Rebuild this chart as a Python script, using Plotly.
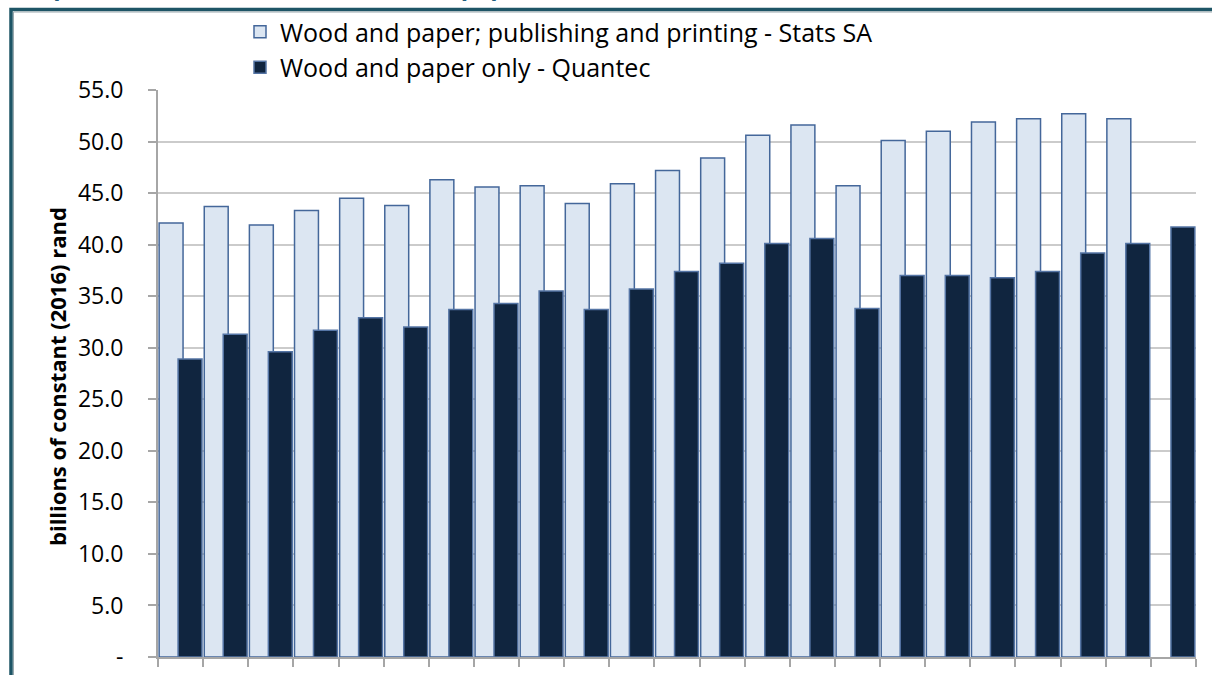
import plotly.graph_objects as go

# Years on the category axis
years = [str(y) for y in range(1994, 2017)]

# Real output, billions of constant (2016) rand
stats_sa = [42.1, 43.7, 41.9, 43.3, 44.5, 43.8, 46.3, 45.6, 45.7, 44.0, 45.9,
            47.2, 48.4, 50.6, 51.6, 45.7, 50.1, 51.0, 51.9, 52.2, 52.7, 52.2, None]
quantec = [28.9, 31.3, 29.6, 31.7, 32.9, 32.0, 33.7, 34.3, 35.5, 33.7, 35.7,
           37.4, 38.2, 40.1, 40.6, 33.8, 37.0, 37.0, 36.8, 37.4, 39.2, 40.1, 41.7]

y_ticks = [0, 5, 10, 15, 20, 25, 30, 35, 40, 45, 50, 55]
y_tick_text = ["-"] + [f"{v:.1f}" for v in y_ticks[1:]]

series_names = ["Wood and paper; publishing and printing - Stats SA",
                "Wood and paper only - Quantec"]

FONT = "Open Sans"

fig = go.Figure()
fig.add_trace(go.Bar(
    x=years, y=stats_sa, name=series_names[0],
    width=0.53, offset=-0.475,
    marker=dict(color="#dce6f2", line=dict(color="#44679a", width=1.5)),
))
fig.add_trace(go.Bar(
    x=years, y=quantec, name=series_names[1],
    width=0.53, offset=-0.055,
    marker=dict(color="#10253f", line=dict(color="#5575a5", width=1.5)),
))

# plot area: x 158..1196 px, y 90..657 px
L, R, T, B = 158, 1196, 90, 657
W, H = R - L, B - T


def px_x(p):
    return (p - L) / W


def px_y(p):
    return (B - p) / H


fig.update_layout(
    width=1212, height=675,
    margin=dict(l=L, r=1212 - R, t=T, b=675 - B, autoexpand=False),
    paper_bgcolor="white", plot_bgcolor="white",
    barmode="overlay",
    font=dict(family=FONT, size=23, color="#000000"),
    showlegend=True,
    legend=dict(
        x=px_x(240), y=px_y(9), xanchor="left", yanchor="top",
        font=dict(family=FONT, size=25, color="#000000"),
        bgcolor="rgba(0,0,0,0)", tracegroupgap=0,
    ),
    xaxis=dict(
        type="category", range=[-0.5, 22.5], automargin=False,
        showgrid=False, showline=True, linecolor="#a6a6a6", linewidth=2,
        ticks="outside", tickson="boundaries", ticklen=8, tickwidth=2,
        tickcolor="#a6a6a6", showticklabels=False,
    ),
    yaxis=dict(
        range=[0, 55], tickvals=y_ticks, ticktext=y_tick_text, automargin=False,
        showgrid=True, gridcolor="#cbcbcb", gridwidth=2,
        showline=True, linecolor="#a6a6a6", linewidth=2,
        ticks="outside", ticklen=8, tickwidth=2, tickcolor="#a6a6a6",
        ticklabelstandoff=20, zeroline=False,
        tickfont=dict(family=FONT, size=23),
    ),
)

# y-axis title
fig.add_annotation(
    text="<b>billions of constant (2016) rand</b>",
    xref="paper", yref="paper", x=px_x(57), y=px_y(377),
    xanchor="center", yanchor="middle", textangle=-90, showarrow=False,
    font=dict(family=FONT, size=22, color="#000000"),
)

# chart title above the frame
fig.add_annotation(
    text="<b>Output of the wood sector: wood and paper, 1994 to 2016, in billions of constant (2016) rand (R)</b>",
    xref="paper", yref="paper", x=px_x(6), y=px_y(4),
    xanchor="left", yanchor="bottom", showarrow=False,
    font=dict(family=FONT, size=24, color="#1f5f7f"),
)

# frame around the chart
fig.add_shape(type="rect", xref="paper", yref="paper",
              x0=px_x(11), x1=px_x(1260), y0=px_y(720), y1=px_y(9.5),
              line=dict(color="#1e5566", width=3.5), fillcolor="rgba(0,0,0,0)",
              layer="above")
fig.add_shape(type="rect", xref="paper", yref="paper",
              x0=px_x(13.5), x1=px_x(1260), y0=px_y(720), y1=px_y(12),
              line=dict(color="#9aa8ad", width=1), fillcolor="rgba(0,0,0,0)",
              layer="above")

fig.write_html("out.html")
